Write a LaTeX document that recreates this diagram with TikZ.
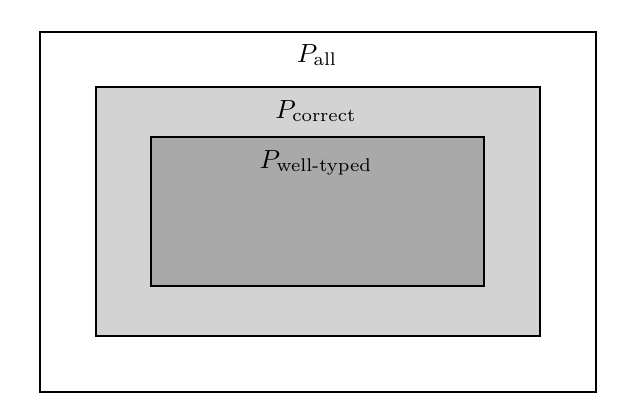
\documentclass[tikz,border=0pt]{standalone}
\usepackage{amsmath}
\usepackage{tikz}
\usetikzlibrary{positioning}
\definecolor{setlight}{HTML}{D3D3D3}
\definecolor{setdark}{HTML}{A9A9A9}
\tikzset{
    setbox/.style={
        draw=black,
        line width=0.8pt
    },
    setlabel/.style={
        anchor=base,
        inner sep=0pt
    }
}
\begin{document}
\begin{tikzpicture}[x=0.0134cm, y=-0.0134cm]
\useasboundingbox (0,0) rectangle (618,418);

% nested sets of programs
\filldraw[setbox, fill=white] (40,32) rectangle (596,392);
\filldraw[setbox, fill=setlight] (96,87) rectangle (540,336);
\filldraw[setbox, fill=setdark] (151,137) rectangle (484,286);

\node[setlabel] (all) at (317,62) {$P_{\text{all}}$};
\node[setlabel] (correct) at (316,118) {$P_{\text{correct}}$};
\node[setlabel] (welltyped) at (316,168) {$P_{\text{well-typed}}$};

\end{tikzpicture}
\end{document}
